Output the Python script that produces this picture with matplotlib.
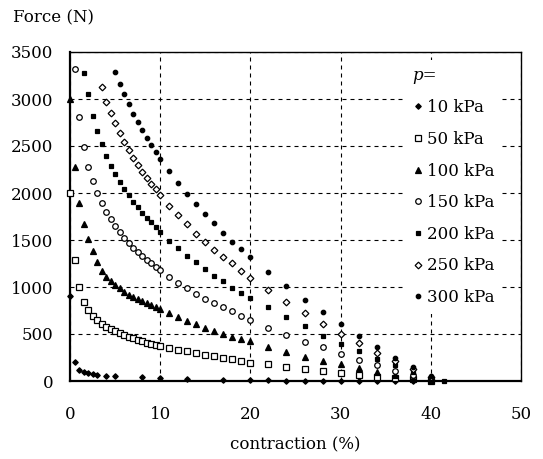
import matplotlib
matplotlib.use("Agg")
import matplotlib.pyplot as plt

plt.rcParams['font.family'] = ['DejaVu Serif']
plt.rcParams['font.size'] = 12

# contraction (%) sampling
x_fine = [0.5, 1.0, 1.5, 2.0, 2.5, 3.0, 3.5, 4.0, 4.5, 5.0, 5.5, 6.0, 6.5,
          7.0, 7.5, 8.0, 8.5, 9.0, 9.5, 10.0]
x_mid = [11, 12, 13, 14, 15, 16, 17, 18, 19, 20]
x_tail = [22, 24, 26, 28, 30, 32, 34, 36, 38, 40]

x_10 = [0, 0.5, 1, 1.5, 2, 2.5, 3, 4, 5, 8, 10, 13, 17, 20] + x_tail
f_10 = [907, 205, 117, 96, 88, 78, 67, 56, 50, 39, 35, 25, 15, 10,
        6, 4, 3, 2, 1, 1, 0, 0, 0, 0]

x_50 = [0] + x_fine + x_mid + x_tail
f_50 = [2003, 1290, 997, 844, 755, 691, 649, 606, 574, 550, 529, 507, 489, 471,
        457, 439, 422, 407, 394, 383, 372,
        354, 333, 319, 301, 280, 266, 248, 231, 216, 195,
        178, 144, 124, 106, 88, 67, 46, 29, 18, 5]

x_100 = [0] + x_fine + x_mid + x_tail
f_100 = [3000, 2280, 1897, 1667, 1511, 1386, 1266, 1170, 1106, 1067, 1021, 986,
         947, 911, 890, 872, 854, 833, 812, 790, 763,
         720, 678, 641, 603, 567, 535, 500, 471, 450, 424,
         365, 312, 259, 213, 181, 142, 96, 61, 35, 7]

x_150 = x_fine + x_mid + x_tail
f_150 = [3322, 2809, 2493, 2277, 2128, 2003, 1890, 1801, 1722, 1652, 1585, 1524,
         1471, 1418, 1369, 1327, 1287, 1252, 1216, 1177,
         1106, 1043, 986, 926, 869, 826, 784, 741, 691, 649,
         561, 489, 418, 358, 284, 223, 165, 110, 61, 18]

x_200 = x_fine[2:] + x_mid + x_tail + [41.5]
f_200 = [3273, 3050, 2819, 2660, 2524, 2390, 2284, 2199, 2114, 2043, 1975, 1904,
         1848, 1787, 1734, 1688, 1635, 1581,
         1493, 1411, 1330, 1266, 1191, 1117, 1064, 993, 933, 880,
         784, 684, 585, 482, 394, 315, 232, 167, 93, 21, 0]

x_250 = x_fine[6:] + x_mid + x_tail
f_250 = [3131, 2968, 2855, 2748, 2641, 2546, 2454, 2372, 2294, 2223, 2160, 2099,
         2039, 1975,
         1867, 1762, 1667, 1567, 1482, 1397, 1322, 1252, 1173, 1101,
         968, 837, 720, 606, 500, 399, 303, 213, 124, 39]

x_300 = x_fine[9:] + x_mid + x_tail
f_300 = [3284, 3160, 3050, 2943, 2844, 2755, 2670, 2585, 2507, 2433, 2362,
         2237, 2103, 1993, 1883, 1775, 1677, 1578, 1475, 1401, 1319,
         1160, 1010, 862, 731, 606, 481, 365, 245, 149, 53]

labels = ['10 kPa', '50 kPa', '100 kPa', '150 kPa', '200 kPa', '250 kPa', '300 kPa']
xs = [x_10, x_50, x_100, x_150, x_200, x_250, x_300]
fs = [f_10, f_50, f_100, f_150, f_200, f_250, f_300]

# marker, face, size
styles = [('D', 'black', 2.8),
          ('s', 'white', 3.8),
          ('^', 'black', 4.3),
          ('o', 'white', 4.0),
          ('s', 'black', 3.3),
          ('D', 'white', 3.4),
          ('o', 'black', 3.2)]

fig = plt.figure(figsize=(5.43, 4.59), dpi=100)
ax = fig.add_axes([70 / 543, 1 - 381 / 459, 451 / 543, 329 / 459])

for x, f, lab, (m, fc, ms) in zip(xs, fs, labels, styles):
    ax.plot(x, f, linestyle='none', marker=m, markersize=ms,
            markerfacecolor=fc, markeredgecolor='black', markeredgewidth=0.9,
            label=lab, clip_on=False, zorder=3)

ax.set_xlim(0, 50)
ax.set_ylim(0, 3500)
ax.set_xticks([0, 10, 20, 30, 40, 50])
ax.set_yticks([0, 500, 1000, 1500, 2000, 2500, 3000, 3500])
ax.grid(True, color='black', linewidth=0.8, linestyle=(0, (3.6, 3.6)))
ax.set_axisbelow(True)
ax.tick_params(axis='x', length=0, pad=18)
ax.tick_params(axis='y', length=0, pad=12)

for side in ['left', 'bottom']:
    ax.spines[side].set_linewidth(1.6)
for side in ['top', 'right']:
    ax.spines[side].set_linewidth(1.0)

fig.text(13 / 543, 1 - 18 / 459, 'Force (N)', ha='left', va='center', fontsize=12)
fig.text(295 / 543, 1 - 445 / 459, 'contraction (%)', ha='center', va='center',
         fontsize=12)

leg = ax.legend(loc='upper left', bbox_to_anchor=((405 - 70) / 451, (381 - 60) / 329),
                title='p=', title_fontproperties={'style': 'italic', 'size': 12},
                alignment='left', frameon=True, fancybox=False, facecolor='white',
                edgecolor='none', framealpha=1, handlelength=0.6,
                handletextpad=0.25, labelspacing=0.88, borderpad=0.45,
                borderaxespad=0, fontsize=12)
leg.set_zorder(2)

fig.savefig('out.png', dpi=100)
